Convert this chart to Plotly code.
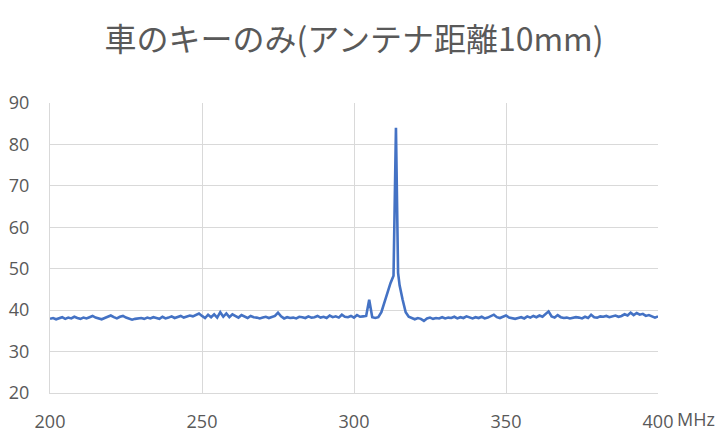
import plotly.graph_objects as go

title_text = "車のキーのみ(アンテナ距離10mm)"
x_unit = "MHz"

freq_a = list(range(200, 308))
level_a = [
    37.9, 38.1, 37.8, 38.0, 38.3, 37.9, 38.2, 38.0, 38.4, 38.1,
    37.9, 38.2, 38.0, 38.3, 38.6, 38.2, 38.0, 37.8, 38.1, 38.5,
    38.7, 38.3, 38.0, 38.4, 38.6, 38.2, 37.9, 37.7, 37.9, 38.0,
    38.1, 37.9, 38.2, 38.0, 38.3, 38.1, 37.9, 38.4, 38.0, 38.2,
    38.5, 38.1, 38.3, 38.6, 38.2, 38.4, 38.7, 38.5, 38.9, 39.2,
    38.6, 38.1, 38.9, 38.3, 39.0, 38.2, 39.5, 38.4, 39.2, 38.3,
    39.0, 38.5, 38.2, 38.8, 38.4, 38.1, 38.6, 38.3, 38.2, 38.0,
    38.2, 38.4, 38.1, 38.3, 38.6, 39.4, 38.5, 38.0, 38.3, 38.1,
    38.2, 38.0, 38.4, 38.3, 38.1, 38.5, 38.2, 38.3, 38.6, 38.2,
    38.4, 38.1, 38.7, 38.3, 38.5, 38.2, 38.9, 38.4, 38.3, 38.6,
    38.2, 38.8, 38.4, 38.5, 38.6, 42.5, 38.3, 38.1,
]

freq_peak = [308, 309, 310, 311, 312, 313, 313.8, 314.5, 315, 316, 317, 318]
level_peak = [38.3, 39.5, 42.0, 44.0, 46.5, 48.3, 84.0, 49.0, 46.0, 42.5, 39.5, 38.4]

freq_b = list(range(319, 401))
level_b = [
    38.0, 37.8, 38.1, 37.9, 37.4, 38.0, 38.2, 37.9, 38.1, 38.0, 38.3,
    38.0, 38.2, 38.1, 38.4, 38.0, 38.3, 38.1, 38.5, 38.2, 38.0,
    38.3, 38.1, 38.4, 38.0, 38.2, 38.6, 38.9, 38.3, 38.1, 38.4,
    38.7, 38.2, 38.0, 37.9, 38.1, 38.3, 38.0, 38.5, 38.2, 38.6,
    38.3, 38.7, 38.4, 39.0, 39.7, 38.5, 38.2, 38.8, 38.3, 38.1,
    38.2, 38.0, 38.1, 38.3, 38.2, 38.0, 38.4, 38.1, 38.9, 38.3,
    38.2, 38.5, 38.4, 38.6, 38.3, 38.5, 38.7, 38.4, 38.6, 39.0,
    38.7, 39.4, 38.8, 39.3, 38.9, 39.1, 38.6, 38.8, 38.4, 38.2, 38.5,
]

freq = freq_a + freq_peak + freq_b
level = level_a + level_peak + level_b

fig = go.Figure()
fig.add_trace(go.Scatter(
    x=freq, y=level, mode="lines",
    line=dict(color="#4472C4", width=2.6),
    showlegend=False, hoverinfo="skip",
))

grid = "#d9d9d9"
txt = "#595959"
tickfont = dict(family="Open Sans, Noto Sans, sans-serif", size=18, color=txt)

# page body has an 8px margin, so the figure is sized/offset to compensate
fig.update_layout(
    width=715, height=438,
    margin=dict(l=42, r=65, t=95, b=53),
    paper_bgcolor="white", plot_bgcolor="white",
    title=dict(
        text=title_text, x=0.5, xref="paper", xanchor="center",
        y=0.927, yref="container", yanchor="middle",
        font=dict(family="Noto Sans CJK JP, sans-serif", size=32, color=txt),
    ),
    xaxis=dict(
        range=[200, 400], tickvals=[200, 250, 300, 350, 400],
        showgrid=True, gridcolor=grid, gridwidth=1,
        showline=True, linecolor=grid, linewidth=1,
        zeroline=False, ticks="", tickfont=tickfont,
        ticklabelstandoff=12, automargin=False,
    ),
    yaxis=dict(
        range=[20, 90], tickvals=[20, 30, 40, 50, 60, 70, 80, 90],
        showgrid=True, gridcolor=grid, gridwidth=1,
        showline=True, linecolor=grid, linewidth=1,
        zeroline=False, ticks="", tickfont=tickfont,
        ticklabelstandoff=16, automargin=False,
    ),
    annotations=[dict(
        text=x_unit, xref="paper", yref="paper",
        x=1.028, y=-0.09, xanchor="left", yanchor="middle",
        showarrow=False, font=tickfont,
    )],
)

fig.write_html("out.html")
